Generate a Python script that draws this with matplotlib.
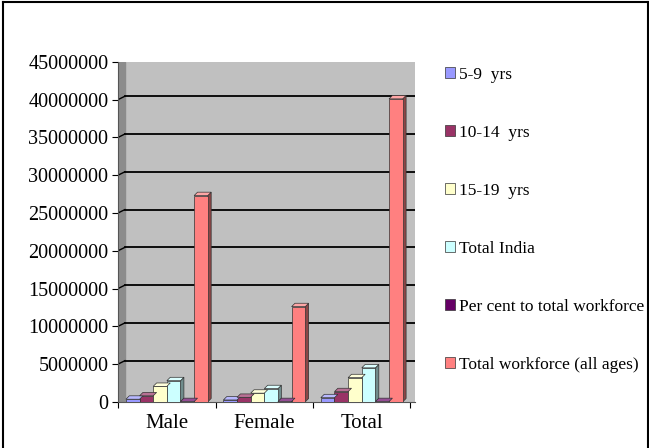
"""Child workers in India by age group: 3D-style clustered column chart."""

import matplotlib

matplotlib.use("Agg")
import matplotlib.pyplot as plt
from matplotlib.patches import Polygon
import numpy as np

categories = ["Male", "Female", "Total"]
series_names = [
    "5-9  yrs",
    "10-14  yrs",
    "15-19  yrs",
    "Total India",
    "Per cent to total workforce",
    "Total workforce (all ages)",
]
age_5_9 = [350000, 250000, 550000]
age_10_14 = [800000, 600000, 1350000]
age_15_19 = [2050000, 1150000, 3200000]
total_india = [2800000, 1750000, 4500000]
per_cent = [40000, 40000, 40000]
total_workforce = [27300000, 12600000, 40100000]

series_values = [age_5_9, age_10_14, age_15_19, total_india, per_cent, total_workforce]
colors = ["#9999FF", "#993366", "#FFFFCC", "#CCFFFF", "#660066", "#FF8080"]
y_ticks = np.arange(0, 45000001, 5000000)

SERIF = ["Liberation Serif", "DejaVu Serif"]


def shade(hex_color, factor):
    rgb = np.array(matplotlib.colors.to_rgb(hex_color))
    if factor < 1:
        return tuple(rgb * factor)
    return tuple(rgb + (1 - rgb) * (factor - 1))


fig = plt.figure(figsize=(6.49, 4.48), dpi=100)
ax = fig.add_axes([0.182, 0.103, 0.458, 0.759])
ax.set_facecolor("#C0C0C0")

x = np.arange(len(categories))
width = 0.14
depth_x = 0.035
depth_y = 450000

ax.set_xlim(-0.5, 2.55)
ax.set_ylim(0, 45000000)

# left wall
ax.axvspan(-0.5, -0.5 + depth_x * 2, color="#8C8C8C", zorder=0.5)

for v in y_ticks[1:]:
    ax.plot([-0.5 + depth_x * 2, 2.55], [v + depth_y, v + depth_y], color="black", lw=1.3, zorder=1)
    ax.plot([-0.5, -0.5 + depth_x * 2], [v, v + depth_y], color="black", lw=1.0, zorder=1)

for i, (vals, col) in enumerate(zip(series_values, colors)):
    offs = x - 3 * width + i * width
    bars = ax.bar(offs, vals, width, align="edge", color=col, edgecolor="#333333",
                  linewidth=0.5, zorder=3, label=series_names[i])
    for b in bars:
        bx, bw, bh = b.get_x(), b.get_width(), b.get_height()
        side = Polygon([(bx + bw, 0), (bx + bw + depth_x, depth_y),
                        (bx + bw + depth_x, bh + depth_y), (bx + bw, bh)],
                       closed=True, facecolor=shade(col, 0.55), edgecolor="#333333",
                       linewidth=0.5, zorder=2.9)
        top = Polygon([(bx, bh), (bx + depth_x, bh + depth_y),
                       (bx + bw + depth_x, bh + depth_y), (bx + bw, bh)],
                      closed=True, facecolor=shade(col, 1.3), edgecolor="#333333",
                      linewidth=0.5, zorder=3.1)
        ax.add_patch(side)
        ax.add_patch(top)

for s in ["top", "right"]:
    ax.spines[s].set_visible(False)
ax.spines["left"].set_color("#555555")
ax.spines["bottom"].set_color("#555555")

ax.set_yticks(y_ticks)
ax.set_yticklabels([f"{int(v)}" for v in y_ticks], fontsize=14.5, family=SERIF)
ax.set_xticks([-0.5, 0.5, 1.5, 2.5], minor=False)
ax.set_xticklabels([])
ax.set_xticks(x, minor=True)
ax.set_xticklabels(categories, minor=True, fontsize=15, family=SERIF)
ax.tick_params(axis="x", which="minor", length=0, pad=9)
ax.tick_params(axis="x", which="major", length=4, direction="out")
ax.tick_params(axis="y", length=4, pad=3)

handles, labels = ax.get_legend_handles_labels()
leg = fig.legend(handles, labels, loc="upper left", bbox_to_anchor=(0.675, 0.867),
                 frameon=False, prop={"family": SERIF, "size": 12.5},
                 handlelength=0.55, handleheight=0.55, handletextpad=0.25,
                 labelspacing=2.42, borderaxespad=0)

# outer frame of the figure
for coords in [([0.004, 0.004], [0, 0.996]), ([0.004, 0.998], [0.996, 0.996]),
               ([0.998, 0.998], [0, 0.996])]:
    fig.add_artist(plt.Line2D(coords[0], coords[1], color="black", lw=1.5))

fig.savefig("out.png", dpi=100)
